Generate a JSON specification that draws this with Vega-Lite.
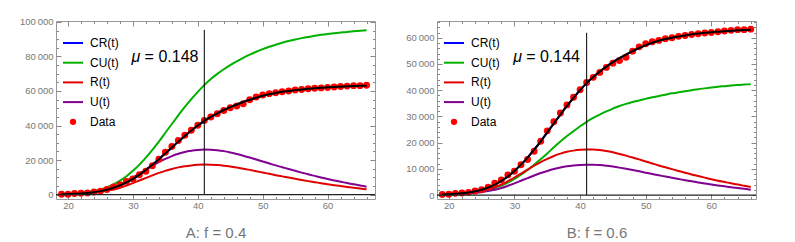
{
  "$schema": "https://vega.github.io/schema/vega-lite/v6.json",
  "background": "white",
  "padding": {"left": 18, "top": 16, "right": 5, "bottom": 0},
  "config": {"view": {"stroke": "#999", "strokeWidth": 1}, "font": "Liberation Sans"},
  "datasets": {
    "A": [
      {"t":19,"CR":250,"CU":375,"R":300,"U":450,"D":200},
      {"t":20,"CR":350,"CU":525,"R":400,"U":600,"D":300},
      {"t":21,"CR":500,"CU":750,"R":560,"U":840,"D":650},
      {"t":22,"CR":700,"CU":1050,"R":760,"U":1140,"D":780},
      {"t":23,"CR":1000,"CU":1500,"R":1000,"U":1500,"D":1040},
      {"t":24,"CR":1450,"CU":2175,"R":1250,"U":1875,"D":1550},
      {"t":25,"CR":2050,"CU":3075,"R":1650,"U":2475,"D":2070},
      {"t":26,"CR":2900,"CU":4350,"R":2250,"U":3375,"D":2960},
      {"t":27,"CR":4000,"CU":6000,"R":3000,"U":4500,"D":4500},
      {"t":28,"CR":5400,"CU":8100,"R":4000,"U":6000,"D":5780},
      {"t":29,"CR":7100,"CU":10650,"R":5300,"U":7950,"D":7700},
      {"t":30,"CR":9200,"CU":13800,"R":6700,"U":10050,"D":9100},
      {"t":31,"CR":11600,"CU":17400,"R":8200,"U":12300,"D":11550},
      {"t":32,"CR":14300,"CU":21450,"R":9700,"U":14550,"D":13600},
      {"t":33,"CR":17300,"CU":25950,"R":11200,"U":16800,"D":16700},
      {"t":34,"CR":20500,"CU":30750,"R":12600,"U":18900,"D":20500},
      {"t":35,"CR":23900,"CU":35850,"R":13800,"U":20700,"D":24500},
      {"t":36,"CR":27300,"CU":40900,"R":14900,"U":22350,"D":27950},
      {"t":37,"CR":30700,"CU":45900,"R":15800,"U":23700,"D":31300},
      {"t":38,"CR":34000,"CU":50800,"R":16500,"U":24750,"D":34400},
      {"t":39,"CR":37100,"CU":55300,"R":16950,"U":25425,"D":37300},
      {"t":40,"CR":40000,"CU":59500,"R":17250,"U":25875,"D":40150},
      {"t":41,"CR":42700,"CU":63400,"R":17400,"U":26100,"D":42950},
      {"t":42,"CR":45000,"CU":66900,"R":17350,"U":26025,"D":44900},
      {"t":43,"CR":47100,"CU":69900,"R":17150,"U":25725,"D":46800},
      {"t":44,"CR":49000,"CU":72600,"R":16800,"U":25200,"D":48700},
      {"t":45,"CR":50700,"CU":75000,"R":16300,"U":24450,"D":50270},
      {"t":46,"CR":52200,"CU":77200,"R":15700,"U":23550,"D":51300},
      {"t":47,"CR":53600,"CU":79200,"R":15050,"U":22575,"D":52580},
      {"t":48,"CR":54900,"CU":81000,"R":14350,"U":21525,"D":54900},
      {"t":49,"CR":56100,"CU":82700,"R":13600,"U":20400,"D":56540},
      {"t":50,"CR":57200,"CU":84200,"R":12800,"U":19200,"D":57700},
      {"t":51,"CR":58100,"CU":85600,"R":12050,"U":18075,"D":58460},
      {"t":52,"CR":58850,"CU":86800,"R":11300,"U":16950,"D":59000},
      {"t":53,"CR":59500,"CU":87900,"R":10600,"U":15900,"D":59600},
      {"t":54,"CR":60000,"CU":88900,"R":9900,"U":14850,"D":60000},
      {"t":55,"CR":60500,"CU":89800,"R":9200,"U":13800,"D":60540},
      {"t":56,"CR":60900,"CU":90600,"R":8500,"U":12750,"D":60900},
      {"t":57,"CR":61300,"CU":91300,"R":7850,"U":11775,"D":61270},
      {"t":58,"CR":61600,"CU":91900,"R":7250,"U":10875,"D":61540},
      {"t":59,"CR":61900,"CU":92500,"R":6650,"U":9975,"D":61800},
      {"t":60,"CR":62100,"CU":93000,"R":6050,"U":9075,"D":62000},
      {"t":61,"CR":62300,"CU":93400,"R":5500,"U":8250,"D":62300},
      {"t":62,"CR":62500,"CU":93800,"R":5000,"U":7500,"D":62580},
      {"t":63,"CR":62700,"CU":94200,"R":4500,"U":6750,"D":62830},
      {"t":64,"CR":62850,"CU":94500,"R":4000,"U":6000,"D":63100},
      {"t":65,"CR":63000,"CU":94800,"R":3550,"U":5325,"D":63100},
      {"t":66,"CR":63100,"CU":95100,"R":3100,"U":4650,"D":63300}
    ],
    "B": [
      {"t":19,"CR":250,"CU":167,"R":300,"U":200,"D":200},
      {"t":20,"CR":350,"CU":233,"R":400,"U":267,"D":300},
      {"t":21,"CR":500,"CU":333,"R":560,"U":373,"D":650},
      {"t":22,"CR":700,"CU":467,"R":760,"U":507,"D":780},
      {"t":23,"CR":1000,"CU":667,"R":1000,"U":667,"D":1040},
      {"t":24,"CR":1450,"CU":967,"R":1250,"U":833,"D":1550},
      {"t":25,"CR":2050,"CU":1367,"R":1650,"U":1100,"D":2070},
      {"t":26,"CR":2900,"CU":1933,"R":2250,"U":1500,"D":2960},
      {"t":27,"CR":4000,"CU":2667,"R":3000,"U":2000,"D":4500},
      {"t":28,"CR":5400,"CU":3600,"R":4000,"U":2667,"D":5780},
      {"t":29,"CR":7100,"CU":4733,"R":5300,"U":3533,"D":7700},
      {"t":30,"CR":9200,"CU":6133,"R":6700,"U":4467,"D":9100},
      {"t":31,"CR":11600,"CU":7733,"R":8200,"U":5467,"D":11550},
      {"t":32,"CR":14300,"CU":9533,"R":9700,"U":6467,"D":13600},
      {"t":33,"CR":17300,"CU":11533,"R":11200,"U":7467,"D":16700},
      {"t":34,"CR":20500,"CU":13700,"R":12600,"U":8400,"D":20500},
      {"t":35,"CR":23900,"CU":15900,"R":13800,"U":9200,"D":24500},
      {"t":36,"CR":27300,"CU":18200,"R":14900,"U":9933,"D":27950},
      {"t":37,"CR":30700,"CU":20400,"R":15800,"U":10533,"D":31300},
      {"t":38,"CR":34000,"CU":22500,"R":16500,"U":11000,"D":34400},
      {"t":39,"CR":37100,"CU":24400,"R":16950,"U":11300,"D":37300},
      {"t":40,"CR":40000,"CU":26250,"R":17250,"U":11500,"D":40150},
      {"t":41,"CR":42700,"CU":27950,"R":17400,"U":11600,"D":42950},
      {"t":42,"CR":45000,"CU":29400,"R":17350,"U":11567,"D":44900},
      {"t":43,"CR":47100,"CU":30700,"R":17150,"U":11433,"D":46800},
      {"t":44,"CR":49000,"CU":31900,"R":16800,"U":11200,"D":48700},
      {"t":45,"CR":50700,"CU":33000,"R":16300,"U":10867,"D":50270},
      {"t":46,"CR":52200,"CU":34000,"R":15700,"U":10467,"D":51300},
      {"t":47,"CR":53600,"CU":34800,"R":15050,"U":10033,"D":52580},
      {"t":48,"CR":54900,"CU":35500,"R":14350,"U":9567,"D":54900},
      {"t":49,"CR":56100,"CU":36100,"R":13600,"U":9067,"D":56540},
      {"t":50,"CR":57200,"CU":36700,"R":12800,"U":8533,"D":57700},
      {"t":51,"CR":58100,"CU":37300,"R":12050,"U":8033,"D":58460},
      {"t":52,"CR":58850,"CU":37800,"R":11300,"U":7533,"D":59000},
      {"t":53,"CR":59500,"CU":38300,"R":10600,"U":7067,"D":59600},
      {"t":54,"CR":60000,"CU":38800,"R":9900,"U":6600,"D":60000},
      {"t":55,"CR":60500,"CU":39200,"R":9200,"U":6133,"D":60540},
      {"t":56,"CR":60900,"CU":39600,"R":8500,"U":5667,"D":60900},
      {"t":57,"CR":61300,"CU":40000,"R":7850,"U":5233,"D":61270},
      {"t":58,"CR":61600,"CU":40400,"R":7250,"U":4833,"D":61540},
      {"t":59,"CR":61900,"CU":40700,"R":6650,"U":4433,"D":61800},
      {"t":60,"CR":62100,"CU":41000,"R":6050,"U":4033,"D":62000},
      {"t":61,"CR":62300,"CU":41300,"R":5500,"U":3667,"D":62300},
      {"t":62,"CR":62500,"CU":41550,"R":5000,"U":3333,"D":62580},
      {"t":63,"CR":62700,"CU":41800,"R":4500,"U":3000,"D":62830},
      {"t":64,"CR":62850,"CU":42000,"R":4000,"U":2667,"D":63100},
      {"t":65,"CR":63000,"CU":42150,"R":3550,"U":2367,"D":63100},
      {"t":66,"CR":63100,"CU":42300,"R":3100,"U":2067,"D":63300}
    ]
  },
  "resolve": {"scale": {"x": "independent", "y": "independent", "color": "independent"}, "legend": {"color": "independent"}},
  "spacing": 28,
  "hconcat": [
    {
      "width": 319, "height": 178,
      "data": {"name": "A"},
      "resolve": {"axis": {"x": "independent", "y": "independent"}},
      "layer": [
        {
          "transform": [{"fold": ["CR", "CU", "R", "U"], "as": ["series", "v"]}],
          "mark": {"type": "line", "strokeWidth": 2, "interpolate": "monotone"},
          "encoding": {
            "x": {"field": "t", "type": "quantitative", "scale": {"domain": [18.15, 67.3], "nice": false, "zero": false},
                  "axis": {"orient": "bottom", "values": [20, 30, 40, 50, 60], "tickSize": -5, "tickColor": "#888", "labelColor": "#777", "labelFontSize": 9.5, "labelPadding": 6, "domain": false, "grid": false, "title": "A: f = 0.4", "titleFontSize": 15, "titleFontWeight": "normal", "titleColor": "#777", "titlePadding": 16}},
            "y": {"field": "v", "type": "quantitative", "scale": {"domain": [-2500, 100500], "nice": false, "zero": false},
                  "axis": {"orient": "left", "values": [0, 20000, 40000, 60000, 80000, 100000], "tickSize": -5, "tickColor": "#888", "labelColor": "#777", "labelFontSize": 9.5, "labelPadding": 8, "domain": false, "grid": false, "title": null, "labelExpr": "replace(format(datum.value, ','), /,/g, '\u2009')"}},
            "color": {"field": "series", "type": "nominal",
                      "scale": {"domain": ["CR", "CU", "R", "U", "Data"], "range": ["#0000ff", "#00b000", "#e00000", "#800090", "#ff0000"]},
                      "legend": {"orient": "none", "legendX": 11, "legendY": 16, "title": null, "padding": 0, "symbolType": "stroke", "symbolStrokeWidth": 2, "symbolSize": 400, "labelFont": "Liberation Sans", "labelFontSize": 12, "labelColor": "#000", "labelOffset": 11, "rowPadding": 7.7,
                                 "labelExpr": "datum.label == 'Data' ? 'Data' : datum.label + '(t)'",
                                 "encode": {"symbols": {"update": {"shape": {"signal": "datum.value === 'Data' ? 'circle' : 'stroke'"}, "size": {"signal": "datum.value === 'Data' ? 40 : 400"}, "fill": {"signal": "datum.value === 'Data' ? '#ff0000' : 'transparent'"}, "strokeWidth": {"signal": "datum.value === 'Data' ? 0 : 2"}}}}}}
          }
        },
        {
          "mark": {"type": "circle", "size": 48, "color": "#ff0000", "opacity": 1},
          "encoding": {
            "x": {"field": "t", "type": "quantitative", "scale": {"domain": [18.15, 67.3], "nice": false, "zero": false},
                  "axis": {"orient": "top", "values": [20, 30, 40, 50, 60], "tickSize": -5, "tickColor": "#888", "labels": false, "domain": false, "grid": false, "title": null}},
            "y": {"field": "D", "type": "quantitative", "scale": {"domain": [-2500, 100500], "nice": false, "zero": false},
                  "axis": {"orient": "right", "values": [0, 20000, 40000, 60000, 80000, 100000], "tickSize": -5, "tickColor": "#888", "labels": false, "domain": false, "grid": false, "title": null}}
          }
        },
        {
          "mark": {"type": "line", "strokeWidth": 2, "color": "#000000", "interpolate": "monotone"},
          "encoding": {
            "x": {"field": "t", "type": "quantitative", "scale": {"domain": [18.15, 67.3], "nice": false, "zero": false},
                  "axis": {"orient": "bottom", "values": [22, 24, 26, 28, 32, 34, 36, 38, 42, 44, 46, 48, 52, 54, 56, 58, 62, 64, 66], "tickSize": -2.5, "tickColor": "#888", "labels": false, "domain": false, "grid": false, "title": null}},
            "y": {"field": "CR", "type": "quantitative", "scale": {"domain": [-2500, 100500], "nice": false, "zero": false},
                  "axis": {"orient": "left", "values": [5000, 10000, 15000, 25000, 30000, 35000, 45000, 50000, 55000, 65000, 70000, 75000, 85000, 90000, 95000], "tickSize": -2.5, "tickColor": "#888", "labels": false, "domain": false, "grid": false, "title": null}}
          }
        },
        {
          "data": {"values": [{"t": 41, "v0": 0, "v1": 95400}]},
          "mark": {"type": "rule", "color": "#000000", "strokeWidth": 1},
          "encoding": {
            "x": {"field": "t", "type": "quantitative", "scale": {"domain": [18.15, 67.3], "nice": false, "zero": false},
                  "axis": {"orient": "top", "values": [22, 24, 26, 28, 32, 34, 36, 38, 42, 44, 46, 48, 52, 54, 56, 58, 62, 64, 66], "tickSize": -2.5, "tickColor": "#888", "labels": false, "domain": false, "grid": false, "title": null}},
            "y": {"field": "v0", "type": "quantitative", "scale": {"domain": [-2500, 100500], "nice": false, "zero": false},
                  "axis": {"orient": "right", "values": [5000, 10000, 15000, 25000, 30000, 35000, 45000, 50000, 55000, 65000, 70000, 75000, 85000, 90000, 95000], "tickSize": -2.5, "tickColor": "#888", "labels": false, "domain": false, "grid": false, "title": null}},
            "y2": {"field": "v1"}
          }
        },
        {
          "data": {"values": [{"v": 0}]},
          "mark": {"type": "rule", "color": "#222222", "strokeWidth": 1.2},
          "encoding": {"y": {"field": "v", "type": "quantitative", "axis": null}}
        },
        {
          "data": {"values": [{"t": 29.8, "v": 79500, "sym": "μ", "val": "= 0.148"}]},
          "mark": {"type": "text", "fontSize": 16, "fontStyle": "italic", "align": "left", "baseline": "middle", "color": "#000"},
          "encoding": {"x": {"field": "t", "type": "quantitative", "axis": null}, "y": {"field": "v", "type": "quantitative", "axis": null}, "text": {"field": "sym"}}
        },
        {
          "data": {"values": [{"t": 29.8, "v": 79500, "sym": "μ", "val": "= 0.148"}]},
          "mark": {"type": "text", "fontSize": 16, "align": "left", "baseline": "middle", "dx": 13, "color": "#000"},
          "encoding": {"x": {"field": "t", "type": "quantitative", "axis": null}, "y": {"field": "v", "type": "quantitative", "axis": null}, "text": {"field": "val"}}
        }
      ]
    },
    {
      "width": 319, "height": 178,
      "data": {"name": "B"},
      "resolve": {"axis": {"x": "independent", "y": "independent"}},
      "layer": [
        {
          "transform": [{"fold": ["CR", "CU", "R", "U"], "as": ["series", "v"]}],
          "mark": {"type": "line", "strokeWidth": 2, "interpolate": "monotone"},
          "encoding": {
            "x": {"field": "t", "type": "quantitative", "scale": {"domain": [18.2, 66.8], "nice": false, "zero": false},
                  "axis": {"orient": "bottom", "values": [20, 30, 40, 50, 60], "tickSize": -5, "tickColor": "#888", "labelColor": "#777", "labelFontSize": 9.5, "labelPadding": 6, "domain": false, "grid": false, "title": "B: f = 0.6", "titleFontSize": 15, "titleFontWeight": "normal", "titleColor": "#777", "titlePadding": 16}},
            "y": {"field": "v", "type": "quantitative", "scale": {"domain": [-1500, 66400], "nice": false, "zero": false},
                  "axis": {"orient": "left", "values": [0, 10000, 20000, 30000, 40000, 50000, 60000], "tickSize": -5, "tickColor": "#888", "labelColor": "#777", "labelFontSize": 9.5, "labelPadding": 8, "domain": false, "grid": false, "title": null, "labelExpr": "replace(format(datum.value, ','), /,/g, '\u2009')"}},
            "color": {"field": "series", "type": "nominal",
                      "scale": {"domain": ["CR", "CU", "R", "U", "Data"], "range": ["#0000ff", "#00b000", "#e00000", "#800090", "#ff0000"]},
                      "legend": {"orient": "none", "legendX": 11, "legendY": 16, "title": null, "padding": 0, "symbolType": "stroke", "symbolStrokeWidth": 2, "symbolSize": 400, "labelFont": "Liberation Sans", "labelFontSize": 12, "labelColor": "#000", "labelOffset": 11, "rowPadding": 7.7,
                                 "labelExpr": "datum.label == 'Data' ? 'Data' : datum.label + '(t)'",
                                 "encode": {"symbols": {"update": {"shape": {"signal": "datum.value === 'Data' ? 'circle' : 'stroke'"}, "size": {"signal": "datum.value === 'Data' ? 40 : 400"}, "fill": {"signal": "datum.value === 'Data' ? '#ff0000' : 'transparent'"}, "strokeWidth": {"signal": "datum.value === 'Data' ? 0 : 2"}}}}}}
          }
        },
        {
          "mark": {"type": "circle", "size": 48, "color": "#ff0000", "opacity": 1},
          "encoding": {
            "x": {"field": "t", "type": "quantitative", "scale": {"domain": [18.2, 66.8], "nice": false, "zero": false},
                  "axis": {"orient": "top", "values": [20, 30, 40, 50, 60], "tickSize": -5, "tickColor": "#888", "labels": false, "domain": false, "grid": false, "title": null}},
            "y": {"field": "D", "type": "quantitative", "scale": {"domain": [-1500, 66400], "nice": false, "zero": false},
                  "axis": {"orient": "right", "values": [0, 10000, 20000, 30000, 40000, 50000, 60000], "tickSize": -5, "tickColor": "#888", "labels": false, "domain": false, "grid": false, "title": null}}
          }
        },
        {
          "mark": {"type": "line", "strokeWidth": 2, "color": "#000000", "interpolate": "monotone"},
          "encoding": {
            "x": {"field": "t", "type": "quantitative", "scale": {"domain": [18.2, 66.8], "nice": false, "zero": false},
                  "axis": {"orient": "bottom", "values": [22, 24, 26, 28, 32, 34, 36, 38, 42, 44, 46, 48, 52, 54, 56, 58, 62, 64, 66], "tickSize": -2.5, "tickColor": "#888", "labels": false, "domain": false, "grid": false, "title": null}},
            "y": {"field": "CR", "type": "quantitative", "scale": {"domain": [-1500, 66400], "nice": false, "zero": false},
                  "axis": {"orient": "left", "values": [2000, 4000, 6000, 8000, 12000, 14000, 16000, 18000, 22000, 24000, 26000, 28000, 32000, 34000, 36000, 38000, 42000, 44000, 46000, 48000, 52000, 54000, 56000, 58000, 62000, 64000, 66000], "tickSize": -2.5, "tickColor": "#888", "labels": false, "domain": false, "grid": false, "title": null}}
          }
        },
        {
          "data": {"values": [{"t": 41, "v0": 0, "v1": 61900}]},
          "mark": {"type": "rule", "color": "#000000", "strokeWidth": 1},
          "encoding": {
            "x": {"field": "t", "type": "quantitative", "scale": {"domain": [18.2, 66.8], "nice": false, "zero": false},
                  "axis": {"orient": "top", "values": [22, 24, 26, 28, 32, 34, 36, 38, 42, 44, 46, 48, 52, 54, 56, 58, 62, 64, 66], "tickSize": -2.5, "tickColor": "#888", "labels": false, "domain": false, "grid": false, "title": null}},
            "y": {"field": "v0", "type": "quantitative", "scale": {"domain": [-1500, 66400], "nice": false, "zero": false},
                  "axis": {"orient": "right", "values": [2000, 4000, 6000, 8000, 12000, 14000, 16000, 18000, 22000, 24000, 26000, 28000, 32000, 34000, 36000, 38000, 42000, 44000, 46000, 48000, 52000, 54000, 56000, 58000, 62000, 64000, 66000], "tickSize": -2.5, "tickColor": "#888", "labels": false, "domain": false, "grid": false, "title": null}},
            "y2": {"field": "v1"}
          }
        },
        {
          "data": {"values": [{"v": 0}]},
          "mark": {"type": "rule", "color": "#222222", "strokeWidth": 1.2},
          "encoding": {"y": {"field": "v", "type": "quantitative", "axis": null}}
        },
        {
          "data": {"values": [{"t": 29.8, "v": 52600, "sym": "μ", "val": "= 0.144"}]},
          "mark": {"type": "text", "fontSize": 16, "fontStyle": "italic", "align": "left", "baseline": "middle", "color": "#000"},
          "encoding": {"x": {"field": "t", "type": "quantitative", "axis": null}, "y": {"field": "v", "type": "quantitative", "axis": null}, "text": {"field": "sym"}}
        },
        {
          "data": {"values": [{"t": 29.8, "v": 52600, "sym": "μ", "val": "= 0.144"}]},
          "mark": {"type": "text", "fontSize": 16, "align": "left", "baseline": "middle", "dx": 13, "color": "#000"},
          "encoding": {"x": {"field": "t", "type": "quantitative", "axis": null}, "y": {"field": "v", "type": "quantitative", "axis": null}, "text": {"field": "val"}}
        }
      ]
    }
  ]
}
